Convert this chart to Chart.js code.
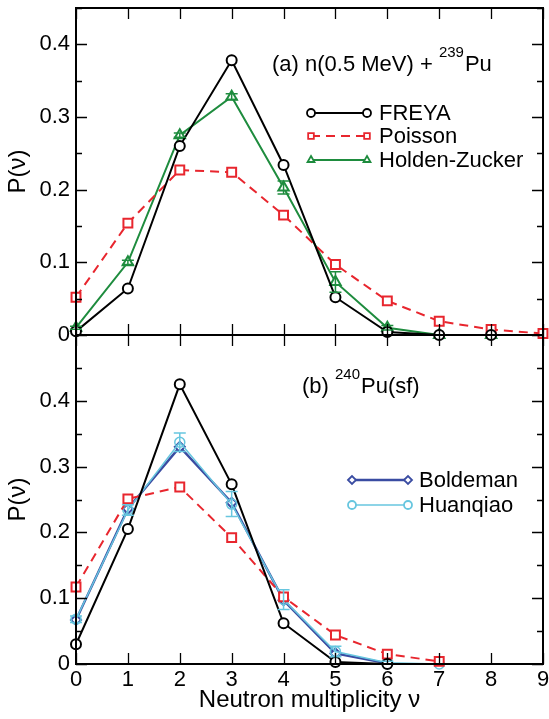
<!DOCTYPE html>
<html><head><meta charset="utf-8">
<script src="https://cdn.jsdelivr.net/npm/chart.js@4.4.0/dist/chart.umd.min.js"></script>
<style>
html,body{margin:0;padding:0;background:#fff;width:549px;height:719px;overflow:hidden}
canvas{position:absolute;left:0}
#c1{top:0}
#c2{top:325px}
</style></head><body>
<canvas id="c1" width="549" height="350"></canvas>
<canvas id="c2" width="549" height="394"></canvas>
<script>
// ---------- data ----------
const nu = [0,1,2,3,4,5,6,7,8,9];
const xTicks = [0,1,2,3,4,5,6,7,8,9];
const yTicks = [0,0.1,0.2,0.3,0.4];
const yMinorTicks = [0.05,0.15,0.25,0.35,0.45];

// (a) n(0.5 MeV) + 239Pu
const topFREYA   = [0.005,0.064,0.260,0.378,0.234,0.052,0.004,0.000,0.000];
const topPoisson = [0.052,0.154,0.227,0.224,0.165,0.097,0.047,0.019,0.0075,0.002];
const topHZ      = [0.010,0.100,0.275,0.328,0.203,0.073,0.010,0.000,0.000];
const topHZerr   = [0.002,0.003,0.003,0.004,0.009,0.014,0.003,0.000,0.000];

// (b) 240Pu(sf)
const botFREYA    = [0.030,0.205,0.425,0.273,0.062,0.003,0.000];
const botPoisson  = [0.117,0.251,0.269,0.192,0.102,0.044,0.015,0.004];
const botBoldeman = [0.067,0.236,0.330,0.245,0.097,0.016,0.001];
const botHuanqiao = [0.068,0.234,0.337,0.243,0.098,0.019,0.002,0.000];
const botHuanErr  = [0.005,0.008,0.014,0.019,0.015,0.008,0.002,0.000];

const pts = arr => arr.map((v,i)=>({x:nu[i], y:v}));

// ---------- styles ----------
const FONT = "'Liberation Sans', Arial, Helvetica, sans-serif";
Chart.defaults.color = '#000';
Chart.defaults.font.family = FONT;
Chart.defaults.font.size = 22;

const RED = '#e8262e', GREEN = '#1e8c3e', DBLUE = '#3a4ca2', LBLUE = '#67c6df';

function series(label, data, color, style, radius, opts) {
  return Object.assign({
    label, data: pts(data), borderColor: color, backgroundColor: '#fff',
    pointBorderColor: color, pointBackgroundColor: '#fff',
    pointStyle: style, pointRadius: radius, pointBorderWidth: 2,
    borderWidth: 2, tension: 0, clip: false, showLine: true
  }, opts || {});
}

function drawMarker(ctx, style, radius, bw, color, fill, x, y) {
  ctx.save();
  ctx.strokeStyle = color; ctx.fillStyle = fill; ctx.lineWidth = bw; ctx.setLineDash([]);
  if (Chart.helpers && Chart.helpers.drawPoint) {
    Chart.helpers.drawPoint(ctx, {pointStyle: style, radius, borderWidth: bw, rotation: 0}, x, y);
  } else {
    ctx.beginPath(); ctx.arc(x, y, radius, 0, Math.PI*2); ctx.fill(); ctx.stroke();
  }
  ctx.restore();
}

// pin the plot area to the reference frame position
const areaPlugin = {
  id: 'area',
  afterLayout(chart, args, o) {
    const a = chart.chartArea;
    a.left = o.left; a.right = o.right; a.top = o.top; a.bottom = o.bottom;
    a.width = o.right - o.left; a.height = o.bottom - o.top;
    const {x, y} = chart.scales;
    x.left = o.left; x.right = o.right; x.width = a.width;
    x.top = o.bottom; x.bottom = chart.height; x.height = x.bottom - x.top;
    y.top = o.top; y.bottom = o.bottom; y.height = a.height;
    y.left = 0; y.right = o.left; y.width = o.left;
    x.configure(); y.configure();
  }
};

// frame + inward ticks
const framePlugin = {
  id: 'frame',
  afterDraw(chart) {
    const {ctx, chartArea: a, scales: {x, y}} = chart;
    ctx.save();
    ctx.strokeStyle = '#000'; ctx.lineWidth = 2; ctx.setLineDash([]);
    ctx.strokeRect(a.left, a.top, a.right - a.left, a.bottom - a.top);
    ctx.lineWidth = 1.3;
    ctx.beginPath();
    xTicks.forEach(v => {
      const px = Math.round(x.getPixelForValue(v)) + 0.5;
      ctx.moveTo(px, a.bottom); ctx.lineTo(px, a.bottom - 11);
      ctx.moveTo(px, a.top); ctx.lineTo(px, a.top + 11);
    });
    yTicks.forEach(v => {
      const py = Math.round(y.getPixelForValue(v)) + 0.5;
      ctx.moveTo(a.left, py); ctx.lineTo(a.left + 11, py);
      ctx.moveTo(a.right, py); ctx.lineTo(a.right - 11, py);
    });
    yMinorTicks.forEach(v => {
      if (v > y.max) return;
      const py = Math.round(y.getPixelForValue(v)) + 0.5;
      ctx.moveTo(a.left, py); ctx.lineTo(a.left + 6, py);
      ctx.moveTo(a.right, py); ctx.lineTo(a.right - 6, py);
    });
    ctx.stroke();
    ctx.restore();
  }
};

// error bars
const errorPlugin = {
  id: 'errbars',
  afterDatasetsDraw(chart) {
    const {ctx, scales: {y}} = chart;
    chart.data.datasets.forEach((ds, i) => {
      if (!ds.errors) return;
      const meta = chart.getDatasetMeta(i);
      ctx.save();
      ctx.strokeStyle = ds.borderColor; ctx.lineWidth = 1.5; ctx.setLineDash([]);
      meta.data.forEach((p, j) => {
        const e = ds.errors[j];
        if (!e) return;
        const v = ds.data[j].y;
        const y1 = y.getPixelForValue(v + e), y2 = y.getPixelForValue(v - e);
        ctx.beginPath();
        ctx.moveTo(p.x, y1); ctx.lineTo(p.x, y2);
        ctx.moveTo(p.x - 6, y1); ctx.lineTo(p.x + 6, y1);
        ctx.moveTo(p.x - 6, y2); ctx.lineTo(p.x + 6, y2);
        ctx.stroke();
      });
      ctx.restore();
    });
  }
};

// legend and panel text
const notePlugin = {
  id: 'notes',
  afterDraw(chart, args, opts) {
    const {ctx} = chart;
    ctx.save();
    (opts.legend || []).forEach(it => {
      const ds = chart.data.datasets[it.index];
      ctx.save();
      ctx.strokeStyle = ds.borderColor; ctx.lineWidth = ds.borderWidth;
      ctx.setLineDash(ds.borderDash || []);
      ctx.beginPath(); ctx.moveTo(it.x1, it.y); ctx.lineTo(it.x2, it.y); ctx.stroke();
      ctx.restore();
      drawMarker(ctx, ds.pointStyle, 4, 1.8, ds.borderColor, '#fff', it.x1, it.y);
      drawMarker(ctx, ds.pointStyle, 4, 1.8, ds.borderColor, '#fff', it.x2, it.y);
      ctx.fillStyle = '#000'; ctx.font = '22px ' + FONT;
      ctx.textBaseline = 'middle'; ctx.textAlign = 'left';
      ctx.fillText(ds.label, it.tx, it.y + 1);
    });
    (opts.texts || []).forEach(t => {
      let x = t.x;
      ctx.textAlign = 'left'; ctx.textBaseline = 'alphabetic'; ctx.fillStyle = '#000';
      t.parts.forEach(p => {
        ctx.font = (p.sup ? '15px ' : '22px ') + FONT;
        const yy = p.sup ? t.y - 14 : t.y;
        ctx.fillText(p.s, x, yy);
        x += ctx.measureText(p.s).width + (p.sup ? 1 : 0);
      });
    });
    ctx.restore();
  }
};

function yScale(max) {
  return {
    type: 'linear', min: 0, max: max,
    grid: {display: false, drawTicks: false}, border: {display: false},
    afterBuildTicks: s => { s.ticks = yTicks.map(v => ({value: v})); },
    afterFit: s => { s.width = 76; },
    ticks: {padding: 6, font: {size: 22, family: FONT}, color: '#000',
      callback: v => v === 0 ? '0' : Number(v).toFixed(1)},
    title: {display: true, text: 'P(\u03bd)', font: {size: 24, family: FONT}, color: '#000', padding: {top: 4, bottom: 0}}
  };
}

// ---------- top chart ----------
new Chart(document.getElementById('c1'), {
  type: 'scatter',
  data: {datasets: [
    series('FREYA', topFREYA, '#000', 'circle', 5, {}),
    series('Poisson', topPoisson, RED, 'rect', 6.3, {borderDash: [9, 6]}),
    series('Holden-Zucker', topHZ, GREEN, 'triangle', 6, {errors: topHZerr})
  ]},
  options: {
    responsive: false, animation: false, events: [],
    layout: {padding: {top: 8, right: 6, left: 0, bottom: 0}},
    plugins: {legend: {display: false}, tooltip: {enabled: false},
      area: {left: 76, right: 543, top: 8, bottom: 335},
      notes: {
        legend: [
          {index: 0, x1: 311, x2: 367, y: 113, tx: 379},
          {index: 1, x1: 311, x2: 367, y: 136, tx: 379},
          {index: 2, x1: 311, x2: 367, y: 160, tx: 379}
        ],
        texts: [{x: 272, y: 71, parts: [{s: '(a) n(0.5 MeV) + '}, {s: '239', sup: true}, {s: 'Pu'}]}]
      }
    },
    scales: {
      x: {type: 'linear', min: 0, max: 9, grid: {display: false, drawTicks: false}, border: {display: false},
        afterBuildTicks: s => { s.ticks = xTicks.map(v => ({value: v})); },
        ticks: {display: false}, afterFit: s => { s.height = 15; }},
      y: yScale(0.45)
    }
  },
  plugins: [areaPlugin, framePlugin, errorPlugin, notePlugin]
});

// ---------- bottom chart ----------
new Chart(document.getElementById('c2'), {
  type: 'scatter',
  data: {datasets: [
    series('FREYA', botFREYA, '#000', 'circle', 5, {}),
    series('Poisson', botPoisson, RED, 'rect', 6.3, {borderDash: [9, 6]}),
    series('Huanqiao', botHuanqiao, LBLUE, 'circle', 5, {borderWidth: 1.5, pointBorderWidth: 1.5, pointBackgroundColor: 'rgba(255,255,255,0)', errors: botHuanErr}),
    series('Boldeman', botBoldeman, DBLUE, 'rectRot', 5, {borderWidth: 2.4})
  ]},
  options: {
    responsive: false, animation: false, events: [],
    layout: {padding: {top: 10, right: 6, left: 0, bottom: 0}},
    plugins: {legend: {display: false}, tooltip: {enabled: false},
      area: {left: 76, right: 543, top: 10, bottom: 339},
      notes: {
        legend: [
          {index: 3, x1: 352, x2: 408, y: 155, tx: 419},
          {index: 2, x1: 352, x2: 408, y: 180, tx: 419}
        ],
        texts: [{x: 302, y: 68, parts: [{s: '(b) '}, {s: '240', sup: true}, {s: 'Pu(sf)'}]}]
      }
    },
    scales: {
      x: {type: 'linear', min: 0, max: 9, grid: {display: false, drawTicks: false}, border: {display: false},
        afterBuildTicks: s => { s.ticks = xTicks.map(v => ({value: v})); },
        afterFit: s => { s.height = 55; },
        ticks: {padding: 3, font: {size: 22, family: FONT}, color: '#000', autoSkip: false, maxRotation: 0},
        title: {display: true, text: 'Neutron multiplicity \u03bd', font: {size: 24, family: FONT}, color: '#000', padding: {top: 0, bottom: 4}}},
      y: yScale(0.5)
    }
  },
  plugins: [areaPlugin, framePlugin, errorPlugin, notePlugin]
});
</script>
</body></html>
